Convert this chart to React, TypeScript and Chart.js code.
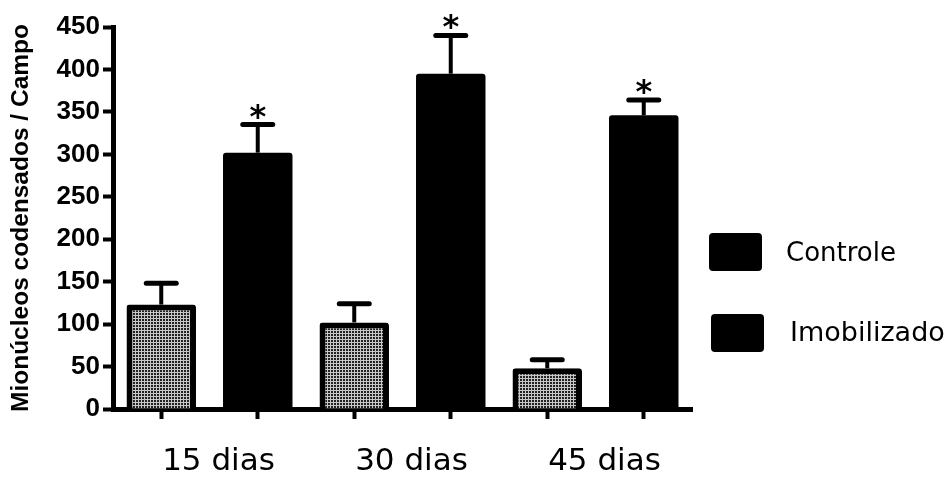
import { useEffect, useRef } from 'react';
import { Chart, registerables } from 'chart.js';

Chart.register(...registerables);

const groupLabels = ['15 dias', '30 dias', '45 dias'];
const seriesNames = ['Controle', 'Imobilizado'];
const controleValues = [123, 102, 48];
const controleErrors = [25, 22, 10];
const imobilizadoValues = [302, 395, 346];
const imobilizadoErrors = [33, 45, 18];
const imobilizadoMarks = ['*', '*', '*'];
const yMin = 0;
const yMax = 450;
const yStep = 50;
const yTitle = 'Mionúcleos codensados / Campo';

// one slot per bar: [group0-Controle, group0-Imobilizado, group1-Controle, ...]
const slotLabels = groupLabels.flatMap((g) => seriesNames.map((s) => `${g} ${s}`));
const toSlots = (arr: any[], seriesIndex: number) =>
  slotLabels.map((_, i) => (i % 2 === seriesIndex ? arr[Math.floor(i / 2)] : null));

function makePattern(): CanvasPattern | string {
  const c = document.createElement('canvas');
  c.width = 3;
  c.height = 3;
  const g = c.getContext('2d');
  if (!g) return '#888';
  g.fillStyle = '#c8c8c8';
  g.fillRect(0, 0, 3, 3);
  g.fillStyle = '#222222';
  g.fillRect(1, 1, 2, 2);
  const p = g.createPattern(c, 'repeat');
  return p || '#888';
}

const errorBarPlugin = {
  id: 'errorBars',
  afterDatasetsDraw(chart: any) {
    const ctx = chart.ctx;
    const y = chart.scales.y;
    chart.data.datasets.forEach((ds: any, di: number) => {
      const meta = chart.getDatasetMeta(di);
      ds.data.forEach((v: number | null, i: number) => {
        if (v == null) return;
        const bar = meta.data[i];
        const x = bar.x;
        const top = y.getPixelForValue(v);
        const hi = y.getPixelForValue(v + ds.errors[i]);
        ctx.save();
        ctx.strokeStyle = '#000';
        ctx.lineWidth = 4;
        ctx.lineCap = 'butt';
        ctx.beginPath();
        ctx.moveTo(x, top);
        ctx.lineTo(x, hi);
        ctx.stroke();
        ctx.lineWidth = 5;
        ctx.lineCap = 'round';
        ctx.beginPath();
        ctx.moveTo(x - 15, hi);
        ctx.lineTo(x + 15, hi);
        ctx.stroke();
        if (ds.marks && ds.marks[i]) {
          ctx.font = 'bold 32px "DejaVu Sans"';
          ctx.textAlign = 'center';
          ctx.textBaseline = 'alphabetic';
          ctx.fillStyle = '#000';
          ctx.fillText(ds.marks[i], x, hi + 2);
        }
        ctx.restore();
      });
    });
  },
};

const legendPlugin = {
  id: 'customLegend',
  afterDraw(chart: any) {
    const ctx = chart.ctx;
    const items = [
      { bx: 709, by: 233, tx: 786, ty: 254, size: 26 },
      { bx: 711, by: 314, tx: 790, ty: 334, size: 27 },
    ];
    chart.data.datasets.forEach((ds: any, i: number) => {
      const it = items[i];
      if (!it) return;
      ctx.save();
      ctx.fillStyle = '#000';
      ctx.beginPath();
      ctx.roundRect(it.bx, it.by, 53, 38, 4);
      ctx.fill();
      ctx.font = `${it.size}px "DejaVu Sans"`;
      ctx.textAlign = 'left';
      ctx.textBaseline = 'middle';
      ctx.fillText(ds.label, it.tx, it.ty);
      ctx.restore();
    });
  },
};

export default function App() {
  const ref = useRef<HTMLCanvasElement | null>(null);

  useEffect(() => {
    if (!ref.current) return;
    const pattern = makePattern();
    const chart = new Chart(ref.current, {
      type: 'bar',
      data: {
        labels: slotLabels,
        datasets: [
          {
            label: seriesNames[0],
            data: toSlots(controleValues, 0),
            errors: toSlots(controleErrors, 0),
            backgroundColor: pattern as any,
            borderColor: '#000',
            borderWidth: 6,
            borderSkipped: 'bottom',
            borderRadius: 3,
          } as any,
          {
            label: seriesNames[1],
            data: toSlots(imobilizadoValues, 1),
            errors: toSlots(imobilizadoErrors, 1),
            marks: toSlots(imobilizadoMarks, 1),
            backgroundColor: '#000',
            borderColor: '#000',
            borderWidth: 0,
            borderRadius: 3,
          } as any,
        ],
      },
      options: {
        animation: false,
        responsive: false,
        events: [],
        layout: { padding: { top: 27, right: 257, left: 0, bottom: 0 } },
        datasets: { bar: { barPercentage: 0.72, categoryPercentage: 1 } },
        plugins: { legend: { display: false }, tooltip: { enabled: false } },
        scales: {
          x: {
            type: 'category',
            stacked: true,
            weight: 0,
            ticks: { display: false },
            grid: {
              offset: false,
              drawOnChartArea: false,
              drawTicks: true,
              tickLength: 10,
              tickWidth: 4,
              tickColor: '#000',
              color: '#000',
            },
            border: { display: true, color: '#000', width: 5 },
          },
          x2: {
            type: 'category',
            position: 'bottom',
            labels: groupLabels,
            weight: 1,
            offset: true,
            grid: { display: false, drawTicks: false },
            border: { display: false },
            ticks: {
              color: '#000',
              font: { family: '"DejaVu Sans"', size: 31 },
              padding: 24,
              labelOffset: 9,
              maxRotation: 0,
              autoSkip: false,
            },
            afterFit: (s: any) => {
              s.height = 61;
            },
          },
          y: {
            min: yMin,
            max: yMax,
            ticks: {
              stepSize: yStep,
              color: '#000',
              padding: 3,
              font: { family: '"Liberation Sans"', weight: 'bold', size: 26 },
            },
            grid: {
              drawOnChartArea: false,
              drawTicks: true,
              tickLength: 10,
              tickWidth: 4,
              tickColor: '#000',
              color: '#000',
            },
            border: { display: true, color: '#000', width: 5 },
            title: {
              display: true,
              text: yTitle,
              color: '#000',
              font: { family: '"Liberation Sans"', weight: 'bold', size: 24.5 },
              padding: { top: 7, bottom: 0 },
            },
            afterFit: (s: any) => {
              s.width = 113;
            },
          },
        },
      } as any,
      plugins: [errorBarPlugin, legendPlugin],
    });
    return () => chart.destroy();
  }, []);

  return (
    <div style={{ position: 'fixed', left: 0, top: 0, width: 949, height: 480, background: '#fff' }}>
      <canvas ref={ref} width={949} height={480} style={{ display: 'block' }} />
    </div>
  );
}
